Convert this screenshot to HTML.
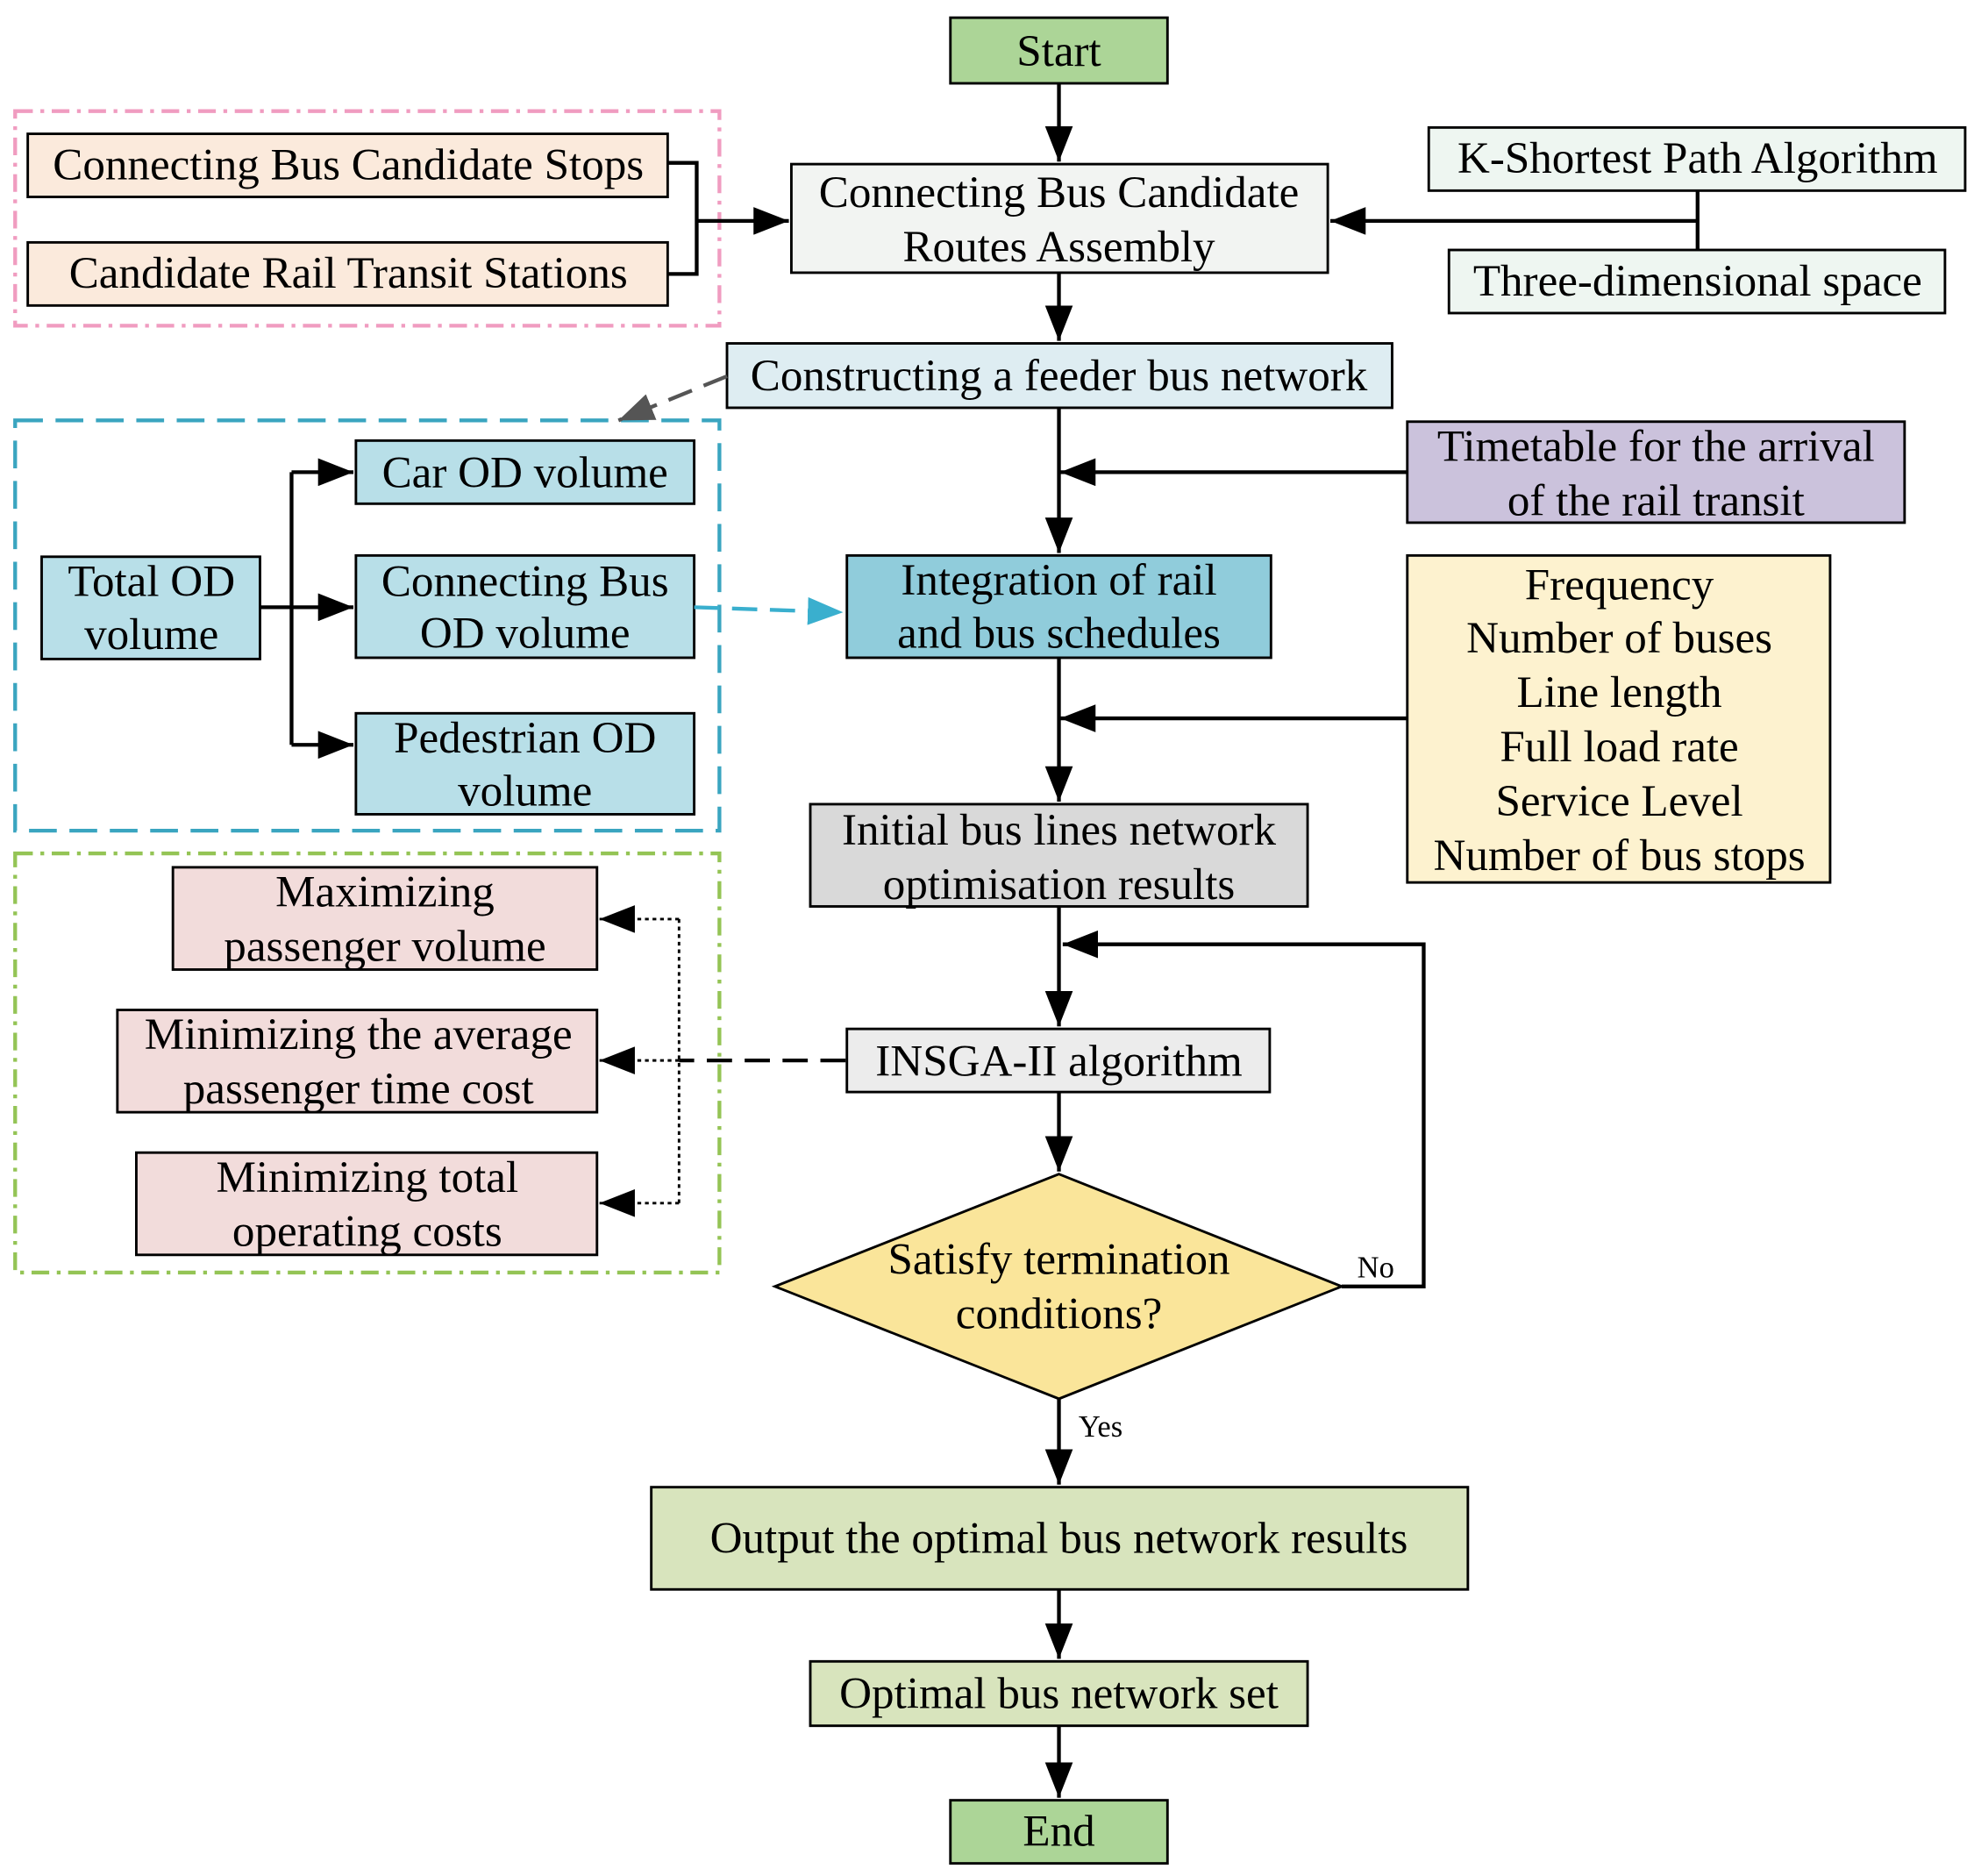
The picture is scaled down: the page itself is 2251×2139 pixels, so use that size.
<!DOCTYPE html>
<html><head><meta charset="utf-8"><style>html,body{margin:0;padding:0;background:#fff}svg{display:block}</style></head>
<body>
<svg width="2251" height="2139" viewBox="0 0 1564 1486" preserveAspectRatio="none" xmlns="http://www.w3.org/2000/svg" font-family="'Liberation Serif', serif" font-size="35.5">
<defs>
<marker id="ab" viewBox="0 0 10 10" refX="10" refY="5" markerWidth="28" markerHeight="22" markerUnits="userSpaceOnUse" orient="auto" preserveAspectRatio="none"><path d="M0,0L10,5L0,10z" fill="#000"/></marker>
<marker id="ag" viewBox="0 0 10 10" refX="10" refY="5" markerWidth="28" markerHeight="22" markerUnits="userSpaceOnUse" orient="auto" preserveAspectRatio="none"><path d="M0,0L10,5L0,10z" fill="#555"/></marker>
<marker id="ac" viewBox="0 0 10 10" refX="10" refY="5" markerWidth="28" markerHeight="22" markerUnits="userSpaceOnUse" orient="auto" preserveAspectRatio="none"><path d="M0,0L10,5L0,10z" fill="#3aafce"/></marker>
</defs>
<g stroke="#000" stroke-width="2">
<rect x="12" y="88" width="558" height="170" fill="none" stroke="#f09cc0" stroke-width="3" stroke-dasharray="14,6,3,6"/>
<rect x="12" y="333" width="558" height="325" fill="none" stroke="#3aa5c0" stroke-width="3" stroke-dasharray="22,10"/>
<rect x="12" y="676" width="558" height="332" fill="none" stroke="#94c455" stroke-width="3" stroke-dasharray="14,6,3,6"/>
<rect x="753" y="14" width="172" height="52" fill="#acd597"/>
<rect x="627" y="130" width="425" height="86" fill="#f2f4f2"/>
<rect x="22" y="106" width="507" height="50" fill="#fbeadc"/>
<rect x="22" y="192" width="507" height="50" fill="#fbeadc"/>
<rect x="1132" y="101" width="425" height="50" fill="#eef6f1"/>
<rect x="1148" y="198" width="393" height="50" fill="#eef6f1"/>
<rect x="576" y="272" width="527" height="51" fill="#deedf2"/>
<rect x="282" y="349" width="268" height="50" fill="#b8dfe8"/>
<rect x="282" y="440" width="268" height="81" fill="#b8dfe8"/>
<rect x="282" y="565" width="268" height="80" fill="#b8dfe8"/>
<rect x="33" y="441" width="173" height="81" fill="#b8dfe8"/>
<rect x="1115" y="334" width="394" height="80" fill="#cbc2dc"/>
<rect x="671" y="440" width="336" height="81" fill="#90ccdb"/>
<rect x="1115" y="440" width="335" height="259" fill="#fdf2cf"/>
<rect x="642" y="637" width="394" height="81" fill="#d9d9d9"/>
<rect x="137" y="687" width="336" height="81" fill="#f2dcdb"/>
<rect x="93" y="800" width="380" height="81" fill="#f2dcdb"/>
<rect x="108" y="913" width="365" height="81" fill="#f2dcdb"/>
<rect x="671" y="815" width="335" height="50" fill="#ececec"/>
<path d="M839,930L1063,1019L839,1108L614,1019z" fill="#fae59a"/>
<rect x="516" y="1178" width="647" height="81" fill="#d8e4bd"/>
<rect x="642" y="1316" width="394" height="51" fill="#d8e4bd"/>
<rect x="753" y="1426" width="172" height="50" fill="#acd597"/>
<g fill="none" stroke-width="3">
<path d="M839,66V128" marker-end="url(#ab)"/>
<path d="M529,129H552V217H529M552,175H625" marker-end="url(#ab)"/>
<path d="M1345,151V198M1345,175H1054" marker-end="url(#ab)"/>
<path d="M839,216V270" marker-end="url(#ab)"/>
<path d="M839,323V438" marker-end="url(#ab)"/>
<path d="M1115,374H840" marker-end="url(#ab)"/>
<path d="M839,521V635" marker-end="url(#ab)"/>
<path d="M1115,569H840" marker-end="url(#ab)"/>
<path d="M839,718V813" marker-end="url(#ab)"/>
<path d="M839,865V928" marker-end="url(#ab)"/>
<path d="M1063,1019H1128V748H842" marker-end="url(#ab)"/>
<path d="M839,1108V1176" marker-end="url(#ab)"/>
<path d="M839,1259V1314" marker-end="url(#ab)"/>
<path d="M839,1367V1424" marker-end="url(#ab)"/>
<path d="M206,481H231M231,374V590"/>
<path d="M231,374H280" marker-end="url(#ab)"/>
<path d="M231,481H280" marker-end="url(#ab)"/>
<path d="M231,590H280" marker-end="url(#ab)"/>
<path d="M576,298L490,333" stroke="#555" stroke-dasharray="20,10" marker-end="url(#ag)"/>
<path d="M550,481L668,485" stroke="#3aafce" stroke-dasharray="20,10" marker-end="url(#ac)"/>
<path d="M670,840H538" stroke-dasharray="20,10"/>
<path d="M538,728V953" stroke-width="2" stroke-dasharray="3,3"/>
<path d="M538,728H475" stroke-width="2" stroke-dasharray="3,3" marker-end="url(#ab)"/>
<path d="M538,840H475" stroke-width="2" stroke-dasharray="3,3" marker-end="url(#ab)"/>
<path d="M538,953H475" stroke-width="2" stroke-dasharray="3,3" marker-end="url(#ab)"/>
</g>
</g>
<g text-anchor="middle" fill="#000">
<text x="839" y="52">Start</text>
<text x="839" y="164">Connecting Bus Candidate</text>
<text x="839" y="207">Routes Assembly</text>
<text x="276" y="142">Connecting Bus Candidate Stops</text>
<text x="276" y="228">Candidate Rail Transit Stations</text>
<text x="1345" y="137">K-Shortest Path Algorithm</text>
<text x="1345" y="234">Three-dimensional space</text>
<text x="839" y="309">Constructing a feeder bus network</text>
<text x="416" y="386">Car OD volume</text>
<text x="416" y="472">Connecting Bus</text>
<text x="416" y="513">OD volume</text>
<text x="416" y="596">Pedestrian OD</text>
<text x="416" y="638">volume</text>
<text x="120" y="472">Total OD</text>
<text x="120" y="514">volume</text>
<text x="1312" y="365">Timetable for the arrival</text>
<text x="1312" y="408">of the rail transit</text>
<text x="839" y="471">Integration of rail</text>
<text x="839" y="513">and bus schedules</text>
<text x="1283" y="475">Frequency</text>
<text x="1283" y="517">Number of buses</text>
<text x="1283" y="560">Line length</text>
<text x="1283" y="603">Full load rate</text>
<text x="1283" y="646">Service Level</text>
<text x="1283" y="689">Number of bus stops</text>
<text x="839" y="669">Initial bus lines network</text>
<text x="839" y="712">optimisation results</text>
<text x="305" y="718">Maximizing</text>
<text x="305" y="761">passenger volume</text>
<text x="284" y="831">Minimizing the average</text>
<text x="284" y="874">passenger time cost</text>
<text x="291" y="944">Minimizing total</text>
<text x="291" y="987">operating costs</text>
<text x="839" y="852">INSGA-II algorithm</text>
<text x="839" y="1009">Satisfy termination</text>
<text x="839" y="1052">conditions?</text>
<text x="1090" y="1012" font-size="24">No</text>
<text x="872" y="1138" font-size="24">Yes</text>
<text x="839" y="1230">Output the optimal bus network results</text>
<text x="839" y="1353">Optimal bus network set</text>
<text x="839" y="1462">End</text>
</g>
</svg>
</body></html>
